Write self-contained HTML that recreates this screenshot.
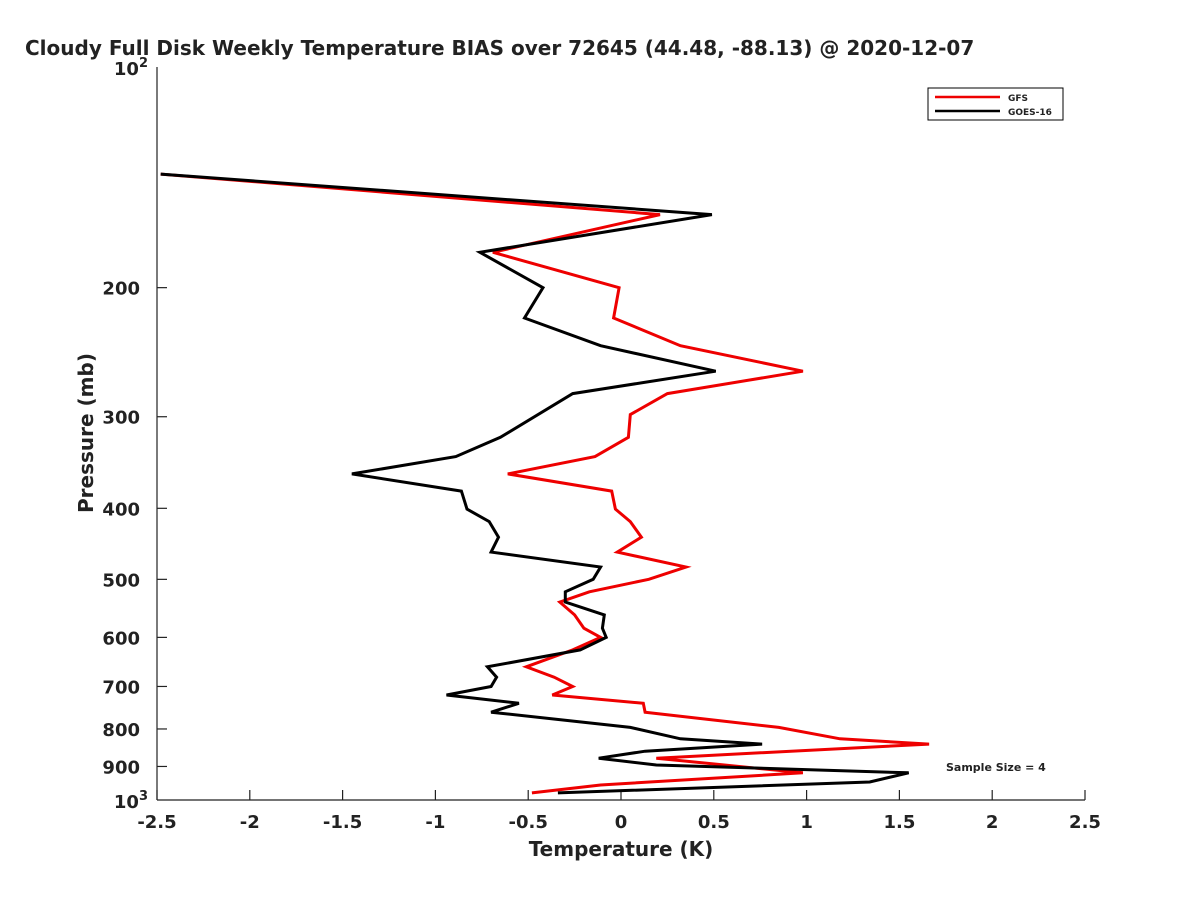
<!DOCTYPE html>
<html><head><meta charset="utf-8"><style>
body{margin:0;background:#fff}
svg text{font-family:"DejaVu Sans","Liberation Sans",sans-serif;font-weight:bold;fill:#222}
</style></head><body>
<svg id="c" width="1200" height="900" xmlns="http://www.w3.org/2000/svg">
<text x="25" y="55" font-size="20" fill="#000">Cloudy Full Disk Weekly Temperature BIAS over 72645 (44.48, -88.13) @ 2020-12-07</text>
<g id="axes"></g>
<g id="series"></g>
<g>
<rect x="928" y="88" width="135" height="32" fill="#fff" stroke="#000" stroke-width="1"/>
<line x1="935" y1="97" x2="1000" y2="97" stroke="#e00" stroke-width="2.5"/>
<text x="1008" y="101" font-size="9">GFS</text>
<line x1="935" y1="111" x2="1000" y2="111" stroke="#000" stroke-width="2.5"/>
<text x="1008" y="115" font-size="9">GOES-16</text>
</g>
<text x="946" y="771" font-size="11" fill="#000">Sample Size = 4</text>
<text x="621" y="856" font-size="20" text-anchor="middle">Temperature (K)</text>
<text transform="translate(93,433) rotate(-90)" font-size="20" text-anchor="middle">Pressure (mb)</text>
</svg>
<script>
const xTicks=[-2.5,-2,-1.5,-1,-0.5,0,0.5,1,1.5,2,2.5];
const xTickLabels=["-2.5","-2","-1.5","-1","-0.5","0","0.5","1","1.5","2","2.5"];
const yTicks=[200,300,400,500,600,700,800,900];
const goesP=[140,159,179,200,220,240,260,279,320,340,359,379,401,417,438,459,481,500,520,537,559,583,600,624,658,680,700,719,738,759,796,825,839,858,877,896,918,945,978];
const goesV=[-2.48,0.49,-0.76,-0.42,-0.52,-0.11,0.51,-0.26,-0.65,-0.89,-1.45,-0.86,-0.83,-0.71,-0.66,-0.70,-0.11,-0.15,-0.30,-0.30,-0.09,-0.10,-0.08,-0.22,-0.72,-0.67,-0.70,-0.94,-0.55,-0.70,0.05,0.32,0.76,0.13,-0.12,0.19,1.55,1.34,-0.34];
const gfsP=[140,159,179,200,220,240,260,279,298,320,340,359,379,401,417,438,459,481,500,520,537,559,583,600,624,658,680,700,719,738,759,796,825,839,877,918,954,978];
const gfsV=[-2.48,0.21,-0.69,-0.01,-0.04,0.32,0.98,0.25,0.05,0.04,-0.14,-0.61,-0.05,-0.03,0.05,0.11,-0.02,0.35,0.15,-0.17,-0.33,-0.25,-0.20,-0.11,-0.26,-0.51,-0.36,-0.26,-0.37,0.12,0.13,0.85,1.18,1.66,0.19,0.98,-0.11,-0.48];
const X=v=>621+v*185.6;
const Y=p=>67+(Math.log10(p)-2)*733;
const NS="http://www.w3.org/2000/svg";
const ax=document.getElementById('axes');
function mk(t,a,parent){const e=document.createElementNS(NS,t);for(const k in a)e.setAttribute(k,a[k]);parent.appendChild(e);return e;}
const xl=mk('line',{x1:157,y1:800,x2:1085,y2:800,stroke:'#222','stroke-width':1.2},ax);


const yl=mk('line',{x1:157,y1:67,x2:157,y2:800,stroke:'#222','stroke-width':1.2},ax);


xTicks.forEach((v,i)=>{
 mk('line',{x1:X(v),y1:800,x2:X(v),y2:790,stroke:'#222','stroke-width':1.2},ax);
 const t=mk('text',{x:X(v),y:828,'font-size':18,'text-anchor':'middle'},ax);
 t.textContent=xTickLabels[i];
 
 
});
yTicks.forEach(p=>{
 mk('line',{x1:157,y1:Y(p),x2:167,y2:Y(p),stroke:'#222','stroke-width':1.2},ax);
 const t=mk('text',{x:140,y:Y(p)+7,'font-size':18,'text-anchor':'end'},ax);
 t.textContent=String(p);
 
 
});
[[100,'2'],[1000,'3']].forEach(([p,e])=>{
 const t=mk('text',{x:148,y:Y(p)+8,'font-size':18,'text-anchor':'end'},ax);
 t.innerHTML='10<tspan dy="-8" font-size="13">'+e+'</tspan>';
 
 
});
const sg=document.getElementById('series');
function line(P,V,col,name){
 const pts=P.map((p,i)=>X(V[i]).toFixed(1)+','+Y(p).toFixed(1)).join(' ');
 const l=mk('polyline',{points:pts,fill:'none',stroke:col,'stroke-width':3,'stroke-linejoin':'miter'},sg);
 
 
}
line(gfsP,gfsV,'#e00','gfs-line');
line(goesP,goesV,'#000','goes-16-line');
</script>
</body></html>
